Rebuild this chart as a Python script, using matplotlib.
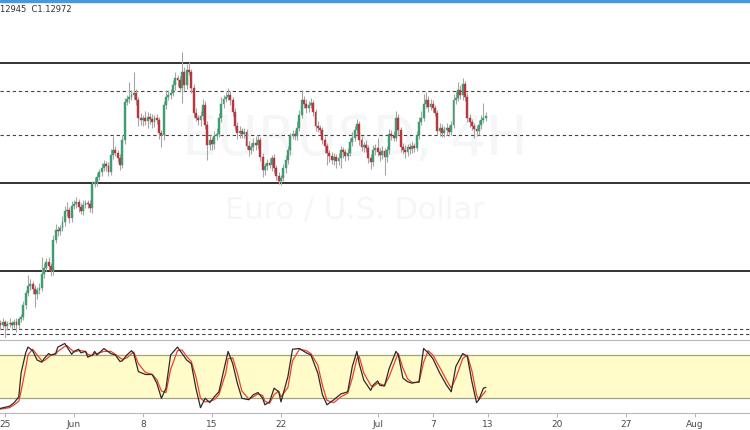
import numpy as np
import matplotlib.pyplot as plt
from matplotlib.patches import Rectangle

# EURUSD 4H closes, one per bar (bar 2 = 25 May 00:00)
closes = [
    1.0880, 1.0886, 1.0878, 1.0882, 1.0884, 1.0880, 1.0886, 1.0880, 1.0892, 1.0896,
    1.0920, 1.0944, 1.0958, 1.0962, 1.0952, 1.0942, 1.0950, 1.0954, 1.0982, 1.0994,
    1.1006, 1.0998, 1.0988, 1.1050, 1.1070, 1.1068, 1.1074, 1.1086, 1.1108, 1.1110,
    1.1094, 1.1118, 1.1122, 1.1126, 1.1116, 1.1108, 1.1120, 1.1124, 1.1122, 1.1114,
    1.1162, 1.1166, 1.1176, 1.1186, 1.1194, 1.1202, 1.1198, 1.1186, 1.1220, 1.1230,
    1.1224, 1.1214, 1.1200, 1.1250, 1.1326, 1.1332, 1.1336, 1.1340, 1.1344, 1.1330,
    1.1294, 1.1290, 1.1294, 1.1288, 1.1296, 1.1292, 1.1286, 1.1294, 1.1290, 1.1264,
    1.1260, 1.1320, 1.1336, 1.1340, 1.1344, 1.1360, 1.1374, 1.1370, 1.1354, 1.1386,
    1.1360, 1.1390, 1.1386, 1.1354, 1.1304, 1.1294, 1.1290, 1.1298, 1.1320, 1.1280,
    1.1240, 1.1250, 1.1242, 1.1258, 1.1262, 1.1294, 1.1322, 1.1332, 1.1336, 1.1340,
    1.1330, 1.1306, 1.1278, 1.1264, 1.1268, 1.1262, 1.1266, 1.1238, 1.1230, 1.1236,
    1.1244, 1.1240, 1.1250, 1.1216, 1.1190, 1.1198, 1.1204, 1.1200, 1.1214, 1.1194,
    1.1178, 1.1168, 1.1174, 1.1194, 1.1210, 1.1230, 1.1258, 1.1262, 1.1258, 1.1274,
    1.1300, 1.1330, 1.1322, 1.1314, 1.1320, 1.1324, 1.1306, 1.1278, 1.1274, 1.1270,
    1.1250, 1.1238, 1.1224, 1.1218, 1.1210, 1.1216, 1.1208, 1.1214, 1.1230, 1.1226,
    1.1218, 1.1224, 1.1246, 1.1254, 1.1270, 1.1282, 1.1250, 1.1236, 1.1240, 1.1234,
    1.1214, 1.1206, 1.1230, 1.1234, 1.1226, 1.1220, 1.1228, 1.1216, 1.1230, 1.1262,
    1.1258, 1.1254, 1.1294, 1.1270, 1.1236, 1.1230, 1.1226, 1.1236, 1.1232, 1.1238,
    1.1234, 1.1260, 1.1286, 1.1294, 1.1322, 1.1330, 1.1316, 1.1322, 1.1314, 1.1304,
    1.1268, 1.1274, 1.1264, 1.1270, 1.1274, 1.1266, 1.1280, 1.1330, 1.1334, 1.1350,
    1.1340, 1.1362, 1.1336, 1.1294, 1.1286, 1.1278, 1.1272, 1.1268, 1.1280, 1.1290,
    1.1294, 1.12972,
]
first_open = 1.0884

# wick lengths in pips above / below the body
upper_wick = [
    6, 8, 5, 6, 10, 4, 6, 8, 5, 6,
    8, 6, 22, 10, 6, 8, 6, 10, 34, 10,
    8, 10, 6, 10, 12, 8, 6, 12, 10, 16,
    6, 10, 8, 10, 6, 8, 10, 6, 6, 8,
    6, 10, 8, 6, 10, 8, 6, 8, 12, 28,
    8, 6, 8, 10, 8, 8, 30, 10, 42, 8,
    6, 10, 6, 14, 10, 8, 10, 6, 8, 6,
    6, 8, 14, 10, 8, 10, 12, 6, 8, 40,
    10, 12, 16, 6, 8, 10, 6, 10, 12, 8,
    8, 10, 6, 10, 12, 10, 14, 8, 10, 14,
    8, 6, 8, 8, 10, 6, 8, 6, 10, 8,
    10, 14, 10, 6, 8, 6, 8, 10, 6, 8,
    6, 8, 6, 8, 10, 8, 6, 8, 8, 14,
    10, 20, 8, 10, 8, 10, 6, 6, 10, 6,
    6, 8, 6, 6, 8, 8, 6, 10, 8, 6,
    6, 10, 8, 12, 8, 10, 6, 8, 6, 10,
    6, 8, 10, 8, 20, 8, 10, 6, 8, 10,
    8, 10, 14, 8, 6, 8, 10, 6, 8, 10,
    6, 8, 10, 14, 20, 16, 8, 10, 8, 6,
    6, 10, 8, 8, 10, 6, 8, 12, 14, 16,
    10, 12, 6, 8, 8, 6, 6, 8, 10, 10,
    30, 8,
]
lower_wick = [
    8, 6, 28, 8, 6, 10, 6, 14, 8, 6,
    6, 8, 6, 8, 10, 26, 10, 8, 6, 8,
    6, 8, 10, 8, 6, 10, 8, 6, 8, 10,
    10, 8, 6, 8, 10, 6, 8, 6, 8, 8,
    10, 6, 8, 6, 8, 6, 10, 8, 6, 8,
    6, 8, 10, 6, 8, 6, 8, 6, 8, 10,
    16, 10, 12, 8, 14, 10, 12, 10, 8, 12,
    24, 10, 8, 6, 8, 6, 10, 12, 8, 30,
    12, 8, 6, 10, 8, 6, 10, 12, 8, 8,
    30, 10, 12, 10, 8, 6, 8, 8, 6, 6,
    10, 8, 8, 12, 10, 8, 8, 6, 12, 8,
    8, 10, 8, 8, 14, 10, 8, 6, 12, 10,
    8, 6, 8, 6, 10, 8, 10, 6, 8, 8,
    6, 6, 8, 10, 8, 6, 8, 10, 8, 8,
    8, 14, 24, 12, 8, 10, 14, 8, 20, 12,
    10, 8, 6, 8, 6, 8, 10, 8, 10, 8,
    10, 14, 8, 10, 8, 12, 8, 36, 10, 8,
    8, 6, 6, 10, 10, 8, 12, 8, 10, 8,
    8, 6, 8, 6, 6, 8, 10, 6, 8, 6,
    8, 10, 8, 8, 10, 8, 6, 6, 8, 6,
    8, 10, 8, 8, 10, 8, 18, 10, 8, 8,
    6, 6,
]

solid_levels = [1.1404, 1.1164, 1.0988]
dashed_levels = [1.1348, 1.1260, 1.0872, 1.0862]

# stochastic, read at these bars
stoch_bar = [
    0, 4, 6, 8, 9, 11, 12, 14, 16, 18, 19, 21, 22, 24, 25, 28, 29, 31, 32, 34,
    35, 37, 38, 40, 41, 42, 45, 48, 50, 52, 53, 55, 57, 58, 60, 63, 66, 68, 70, 72,
    74, 77, 79, 81, 83, 85, 87, 89, 91, 93, 95, 98, 99, 101, 103, 105, 108, 110, 112, 114,
    115, 117, 119, 121, 122, 125, 127, 130, 133, 135, 138, 140, 142, 145, 148, 151, 153, 155, 156, 158,
    161, 162, 164, 165, 167, 169, 172, 173, 175, 177, 179, 182, 184, 186, 188, 191, 194, 196, 198, 201,
    203, 205, 207, 208, 210, 211,
]
stoch_k = [
    6, 9, 14, 22, 55, 83, 91, 86, 73, 70, 75, 82, 80, 82, 91, 96, 91, 81, 85, 88,
    83, 85, 77, 80, 85, 80, 89, 82, 80, 71, 72, 80, 86, 82, 57, 53, 53, 41, 20, 34,
    80, 91, 82, 73, 68, 34, 7, 20, 14, 22, 29, 71, 85, 68, 41, 20, 18, 25, 28, 20,
    11, 15, 34, 29, 15, 50, 88, 89, 83, 80, 55, 25, 11, 18, 26, 29, 64, 85, 68, 45,
    31, 38, 44, 38, 37, 61, 85, 80, 48, 43, 41, 43, 89, 83, 75, 55, 38, 29, 64, 82,
    78, 43, 14, 18, 34, 35,
]
stoch_d = [
    5, 7, 11, 16, 30, 62, 80, 88, 80, 72, 72, 77, 80, 81, 85, 92, 93, 87, 84, 86,
    86, 85, 81, 79, 82, 82, 85, 85, 81, 76, 74, 76, 82, 84, 68, 56, 53, 46, 30, 28,
    60, 86, 87, 78, 71, 50, 20, 15, 16, 18, 25, 55, 75, 76, 55, 30, 19, 22, 26, 24,
    16, 13, 25, 30, 22, 35, 72, 88, 86, 82, 66, 38, 17, 14, 22, 27, 48, 75, 78, 55,
    38, 36, 41, 40, 38, 50, 75, 82, 62, 47, 42, 42, 70, 86, 80, 63, 45, 34, 48, 75,
    80, 58, 25, 18, 26, 30,
]

tick_bars = [2, 32, 62, 92, 122, 164, 188, 212, 242, 272, 302]
tick_labels = ["25", "Jun", "8", "15", "22", "Jul", "7", "13", "20", "27", "Aug"]

closes = np.array(closes)
opens = np.concatenate([[first_open], closes[:-1]])
highs = np.maximum(opens, closes) + np.array(upper_wick) / 10000
lows = np.minimum(opens, closes) - np.array(lower_wick) / 10000
idx = np.arange(len(closes))
up = closes >= opens

fig = plt.figure(figsize=(7.5, 4.3), dpi=100)
ax = fig.add_axes([0, 92 / 430, 1, 338 / 430])
ax2 = fig.add_axes([0, 17 / 430, 1, 73 / 430], sharex=ax)

# watermark
ax.text(154, 1.1250, "EURUSD, 4H", fontsize=40, color="#f5f6f8",
        ha="center", va="center", zorder=0)
ax.text(154, 1.1110, "Euro / U.S. Dollar", fontsize=22, color="#f5f6f8",
        ha="center", va="center", zorder=0)

for lv in solid_levels:
    ax.axhline(lv, color="#111111", lw=1.2, zorder=1)
for lv in dashed_levels:
    ax.axhline(lv, color="#444444", lw=0.8, ls=(0, (3, 2.5)), zorder=1)

ax.vlines(idx, lows, highs, color="#a6a6a6", lw=0.8, zorder=2)
body = np.maximum(np.abs(closes - opens), 0.00015)
colors = np.where(up, "#3f9e71", "#b9363f")
ax.bar(idx, body, bottom=np.minimum(opens, closes), width=0.8,
       color=colors, edgecolor=colors, lw=0.3, zorder=3)

ax.set_ylim(1.1530 - 338 * 0.0002, 1.1530)
ax.set_xlim(-0.17, 325.9)
for s in ax.spines.values():
    s.set_visible(False)
ax.tick_params(left=False, labelleft=False, bottom=False, labelbottom=False)

# stochastic panel
ax2.axhspan(20, 80, color="#fffcca", lw=0, zorder=0)
ax2.axhline(80, color="#a4a47c", lw=0.9, zorder=1)
ax2.axhline(20, color="#a4a47c", lw=0.9, zorder=1)
ax2.plot(stoch_bar, stoch_d, color="#f0402e", lw=0.9, zorder=2)
ax2.plot(stoch_bar, stoch_k, color="#2b2b2b", lw=0.9, zorder=3)
ax2.set_ylim(-0.4, 100.8)
for side in ["left", "right"]:
    ax2.spines[side].set_visible(False)
ax2.spines["top"].set_color("#b8b8b8")
ax2.spines["bottom"].set_color("#b8b8b8")
ax2.tick_params(left=False, labelleft=False)
ax2.set_xticks(tick_bars)
ax2.set_xticklabels(tick_labels)
ax2.tick_params(axis="x", length=3, color="#b8b8b8", labelsize=6.5,
                labelcolor="#4a4a4a", pad=2)

# header and top border
fig.text(0.0, 1 - 9 / 430, "12945  C1.12972", fontsize=6, color="#333333",
         va="center", ha="left")
fig.patches.append(Rectangle((0, 1 - 2 / 430), 1, 2 / 430,
                             transform=fig.transFigure, color="#3d9be9"))

fig.savefig("out.png", dpi=100)
